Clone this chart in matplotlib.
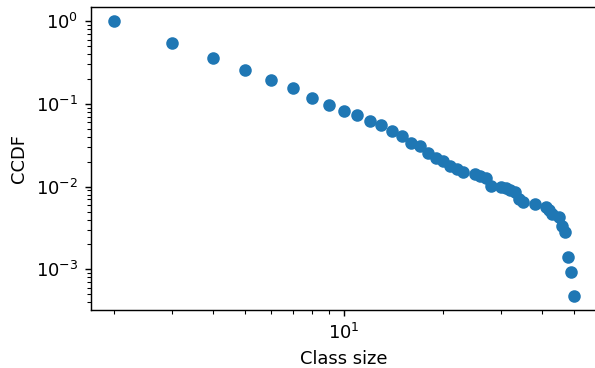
import numpy as np
from matplotlib import pyplot as plt

classSize = [2, 3, 4, 5, 6, 7, 8, 9, 10, 11, 12, 13, 14, 15, 16, 17, 18, 19, 20,
             21, 22, 23, 25, 26, 27, 28, 30, 31, 32, 33, 34, 35, 38, 41, 42, 43,
             45, 46, 47, 48, 49, 50]
ccdf = [1.0, 0.547, 0.356, 0.255, 0.196, 0.154, 0.117, 0.097, 0.081, 0.0733,
        0.063, 0.0549, 0.047, 0.0404, 0.0341, 0.0314, 0.0254, 0.0225, 0.0203,
        0.018, 0.0163, 0.0152, 0.0144, 0.0134, 0.0127, 0.0103, 0.0100, 0.0095,
        0.00904, 0.00855, 0.0071, 0.00658, 0.00612, 0.00573, 0.00522, 0.00471,
        0.00425, 0.00334, 0.00282, 0.00142, 0.00094, 0.000473]

fig = plt.figure(figsize=(4.6125, 2.8530), dpi=129)
ax = fig.add_axes([90.5 / 595, 1 - 310 / 368, 506.5 / 595, 302.5 / 368])
ax.scatter(classSize, ccdf)
ax.set_xscale('log')
ax.set_yscale('log')
ax.set_xlabel('Class size')
ax.set_ylabel('CCDF')
fig.savefig('out.png', dpi=129)
